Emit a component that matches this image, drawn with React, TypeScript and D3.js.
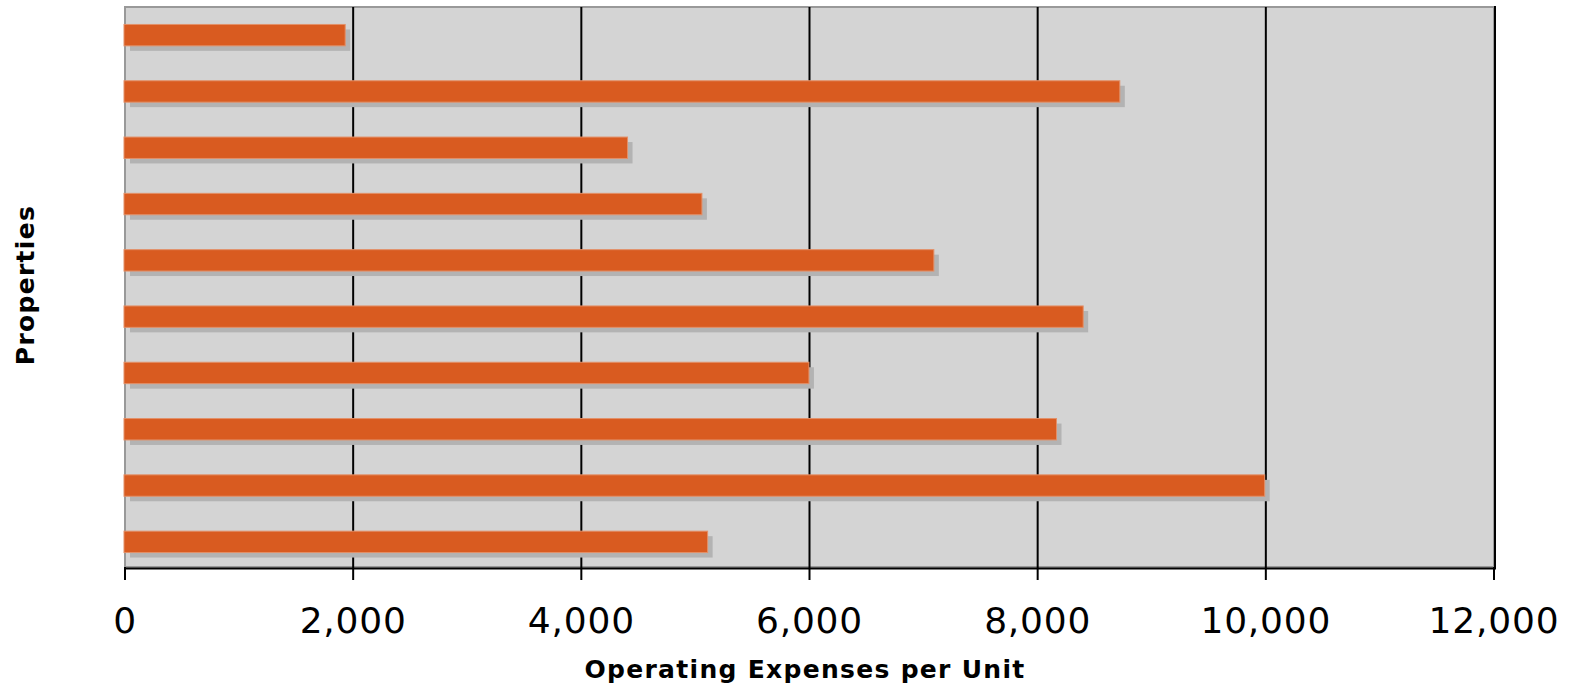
import React from "react";
import * as d3 from "d3";

const categories = [
  "Property 1", "Property 2", "Property 3", "Property 4", "Property 5",
  "Property 6", "Property 7", "Property 8", "Property 9", "Property 10",
];
const values = [1930, 8720, 4405, 5057, 7090, 8399, 5995, 8165, 9990, 5107];
const xTicks = [0, 2000, 4000, 6000, 8000, 10000, 12000];
const xTitle = "Operating Expenses per Unit";
const yTitle = "Properties";

const W = 1569;
const H = 691;
const left = 125;
const right = 1494;
const top = 7;
const bottom = 567;

export default function App() {
  const x = d3.scaleLinear().domain([0, 12000]).range([left, right]);
  const y = d3
    .scaleBand<string>()
    .domain(categories)
    .range([top, 570])
    .paddingInner(0.62)
    .paddingOuter(0.31);
  const fmt = d3.format(",");
  const font = "'DejaVu Sans', Verdana, sans-serif";

  return (
    <svg
      width={W}
      height={H}
      style={{ position: "absolute", left: 0, top: 0, background: "#fff" }}
      fontFamily={font}
    >
      <rect x={left} y={top} width={right - left} height={bottom - top} fill="#d4d4d4" stroke="#999" strokeWidth={2} />
      {xTicks
        .filter((t) => t > 0 && t < 12000)
        .map((t) => (
          <line key={"g" + t} x1={x(t)} x2={x(t)} y1={top} y2={bottom} stroke="#000" strokeWidth={2} />
        ))}
      {values.map((v, i) => (
        <rect
          key={"s" + i}
          x={x(0) + 5}
          y={(y(categories[i]) as number) + 5}
          width={x(v) - x(0)}
          height={y.bandwidth()}
          fill="#b3b3b3"
        />
      ))}
      {values.map((v, i) => (
        <rect
          key={"b" + i}
          x={x(0) - 1}
          y={y(categories[i]) as number}
          width={x(v) - x(0) + 1}
          height={y.bandwidth()}
          fill="#d95b20"
          stroke="#e39068"
          strokeWidth={1}
        />
      ))}
      <line x1={right + 1} x2={right + 1} y1={top - 1} y2={bottom + 2} stroke="#000" strokeWidth={2} />
      <line x1={left - 1} x2={right + 2} y1={bottom + 1.5} y2={bottom + 1.5} stroke="#000" strokeWidth={2} />
      {xTicks.map((t) => (
        <g key={"t" + t}>
          <line x1={x(t)} x2={x(t)} y1={bottom} y2={bottom + 13} stroke="#000" strokeWidth={2} />
          <text x={x(t)} y={633} textAnchor="middle" fontSize={36} letterSpacing={0.8} fill="#000">
            {fmt(t)}
          </text>
        </g>
      ))}
      <text x={805} y={678} textAnchor="middle" fontSize={25} letterSpacing={1.3} fontWeight="bold" fill="#000">
        {xTitle}
      </text>
      <text
        transform={`translate(34, ${(top + bottom) / 2 - 2}) rotate(-90)`}
        textAnchor="middle"
        fontSize={25}
        letterSpacing={1.3}
        fontWeight="bold"
        fill="#000"
      >
        {yTitle}
      </text>
    </svg>
  );
}
